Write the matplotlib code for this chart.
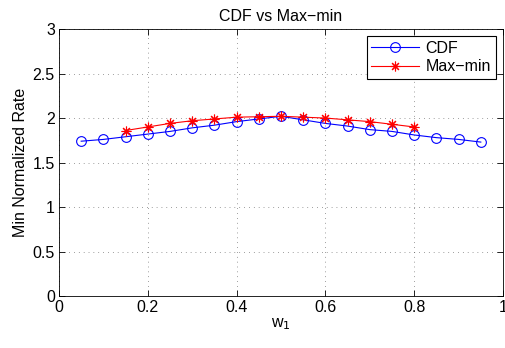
import numpy as np
import matplotlib
matplotlib.use('Agg')
import matplotlib.pyplot as plt

plt.rcParams['font.family'] = ['Liberation Sans', 'DejaVu Sans']

# data
w1_cdf = [0.05, 0.10, 0.15, 0.20, 0.25, 0.30, 0.35, 0.40, 0.45, 0.50,
          0.55, 0.60, 0.65, 0.70, 0.75, 0.80, 0.85, 0.90, 0.95]
rate_cdf = [1.74, 1.76, 1.79, 1.82, 1.85, 1.89, 1.92, 1.96, 1.99, 2.02,
            1.98, 1.94, 1.91, 1.87, 1.85, 1.81, 1.78, 1.76, 1.73]

w1_maxmin = [0.15, 0.20, 0.25, 0.30, 0.35, 0.40, 0.45, 0.50,
             0.55, 0.60, 0.65, 0.70, 0.75, 0.80]
rate_maxmin = [1.86, 1.90, 1.94, 1.97, 1.99, 2.01, 2.015, 2.02,
               2.01, 2.00, 1.98, 1.96, 1.93, 1.90]

xticks = [0, 0.2, 0.4, 0.6, 0.8, 1]
xticklabels = ['0', '0.2', '0.4', '0.6', '0.8', '1']
yticks = [0, 0.5, 1, 1.5, 2, 2.5, 3]
yticklabels = ['0', '0.5', '1', '1.5', '2', '2.5', '3']

FS = 11.5

fig = plt.figure(figsize=(5.06, 3.48), dpi=100)
ax = fig.add_axes([0.1166, 0.1494, 0.8775, 0.767])

ax.plot(w1_cdf, rate_cdf, '-o', color='#0000ff', lw=0.8, markersize=7,
        markerfacecolor='none', markeredgewidth=0.8, label='CDF')
ax.plot(w1_maxmin, rate_maxmin, '-', marker=(8, 2, 0), color='#ff0000', lw=0.8,
        markersize=7, markeredgewidth=0.8, label='Max\u2212min')

ax.set_xlim(0, 1)
ax.set_ylim(0, 3)
ax.set_xticks(xticks)
ax.set_xticklabels(xticklabels)
ax.set_yticks(yticks)
ax.set_yticklabels(yticklabels)
ax.tick_params(direction='in', length=4, width=0.6, labelsize=FS,
               top=True, right=True, pad=3)
ax.grid(True, linestyle=(0, (1, 6)), color='#444444', lw=0.5)
for s in ax.spines.values():
    s.set_linewidth(0.6)

ax.set_title('CDF vs Max\u2212min', fontsize=FS, pad=6)
ax.set_xlabel('w$_1$', fontsize=FS, labelpad=1)
ax.set_ylabel('Min Normalized Rate', fontsize=FS, labelpad=3)

leg = ax.legend(loc='upper right', fontsize=FS, fancybox=False, framealpha=1,
                edgecolor='black', borderaxespad=0.45, handlelength=3.0,
                handletextpad=0.4, borderpad=0.3, labelspacing=0.2)
leg.get_frame().set_linewidth(0.8)

fig.savefig('out.png', dpi=100)
